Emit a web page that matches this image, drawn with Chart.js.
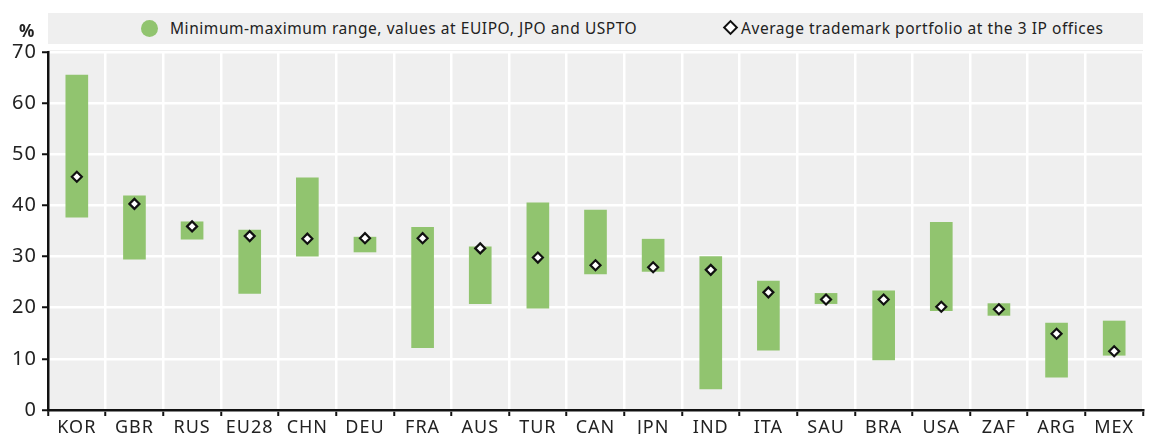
<!DOCTYPE html>
<html>
<head>
<meta charset="utf-8">
<script src="https://cdn.jsdelivr.net/npm/chart.js@4/dist/chart.umd.min.js"></script>
<style>
  html,body{margin:0;padding:0;background:#fff;}
  #wrap{position:relative;width:1156px;height:434px;font-family:"Noto Sans",sans-serif;}
  canvas{position:absolute;left:0;top:0;}
  #legend{position:absolute;left:48px;top:13px;width:1095px;height:31px;background:#efefef;
    font-size:15.5px;color:#222;letter-spacing:0.55px;}
  .li{position:absolute;top:5px;white-space:nowrap;line-height:20px;}
  .dot{display:inline-block;width:17px;height:17px;border-radius:50%;background:#91c46f;vertical-align:-3px;margin-right:12px;}
  .dia{display:inline-block;width:7px;height:7px;border:2px solid #111;background:#fff;transform:rotate(45deg);vertical-align:1px;margin-right:5px;}
  #pct{position:absolute;left:19px;top:19px;font-size:17px;font-weight:bold;color:#222;}
</style>
</head>
<body>
<div id="wrap">
<canvas id="c" width="1156" height="434"></canvas>
<div id="legend">
  <div class="li" style="left:93px;"><span class="dot"></span>Minimum-maximum range, values at EUIPO, JPO and USPTO</div>
  <div class="li" style="left:677px;"><span class="dia"></span>Average trademark portfolio at the 3 IP offices</div>
</div>
<div id="pct">%</div>
</div>
<script>
const categories = ["KOR","GBR","RUS","EU28","CHN","DEU","FRA","AUS","TUR","CAN","JPN","IND","ITA","SAU","BRA","USA","ZAF","ARG","MEX"];
const minValues  = [37.7,29.5,33.4,22.8,30.1,30.9,12.2,20.8,19.9,26.6,27.1,4.1,11.7,20.8,9.8,19.4,18.5,6.4,10.7];
const maxValues  = [65.5,41.9,36.8,35.2,45.4,33.8,35.7,31.9,40.5,39.1,33.4,30.0,25.2,22.8,23.3,36.7,20.8,17.0,17.4];
const avgValues  = [45.6,40.3,35.9,34.0,33.5,33.6,33.6,31.6,29.8,28.3,27.9,27.4,23.0,21.6,21.6,20.2,19.7,14.9,11.5];
const yTicks = [0,10,20,30,40,50,60,70];

const ranges = categories.map((c,i)=>[minValues[i], maxValues[i]]);

const bgPlugin = {
  id:'bg',
  beforeDraw(chart){
    const {ctx, chartArea:a} = chart;
    ctx.letterSpacing = '1px';
    ctx.save();
    ctx.fillStyle = '#efefef';
    ctx.fillRect(a.left, a.top-2, a.right-a.left, a.bottom-a.top+2);
    ctx.restore();
  }
};

new Chart(document.getElementById('c'), {
  type:'bar',
  data:{
    labels: categories,
    datasets:[
      {
        type:'line',
        label:'Average trademark portfolio at the 3 IP offices',
        data: avgValues,
        showLine:false,
        pointStyle:'rectRot',
        pointRadius:5,
        pointBorderWidth:2.2,
        pointBackgroundColor:'#fff',
        pointBorderColor:'#111',
        order:0
      },
      {
        label:'Minimum-maximum range, values at EUIPO, JPO and USPTO',
        data: ranges,
        backgroundColor:'#91c46f',
        borderWidth:0,
        borderSkipped:false,
        barThickness:22,
        order:1
      }
    ]
  },
  plugins:[bgPlugin],
  options:{
    responsive:false,
    animation:false,
    layout:{padding:{top:52,right:13,left:0,bottom:0}},
    plugins:{legend:{display:false},tooltip:{enabled:false}},
    scales:{
      x:{
        offset:true,
        grid:{offset:true,color:'#ffffff',lineWidth:2.5,drawTicks:true,tickLength:6,tickColor:'#111',tickWidth:2},
        border:{display:true,color:'#111',width:2.5},
        ticks:{color:'#222',font:{family:'"Noto Sans", sans-serif',size:18},padding:1,maxRotation:0,autoSkip:false},
        afterFit(s){s.height=24;}
      },
      y:{
        min:0,max:70,
        afterBuildTicks(s){s.ticks = yTicks.map(v=>({value:v}));},
        grid:{color:'#ffffff',lineWidth:2.5,drawTicks:true,tickLength:6,tickColor:'#111',tickWidth:2},
        border:{display:true,color:'#111',width:2.5},
        ticks:{color:'#222',font:{family:'"Noto Sans", sans-serif',size:20},padding:5},
        afterFit(s){s.width=48;}
      }
    }
  }
});
</script>
</body>
</html>
